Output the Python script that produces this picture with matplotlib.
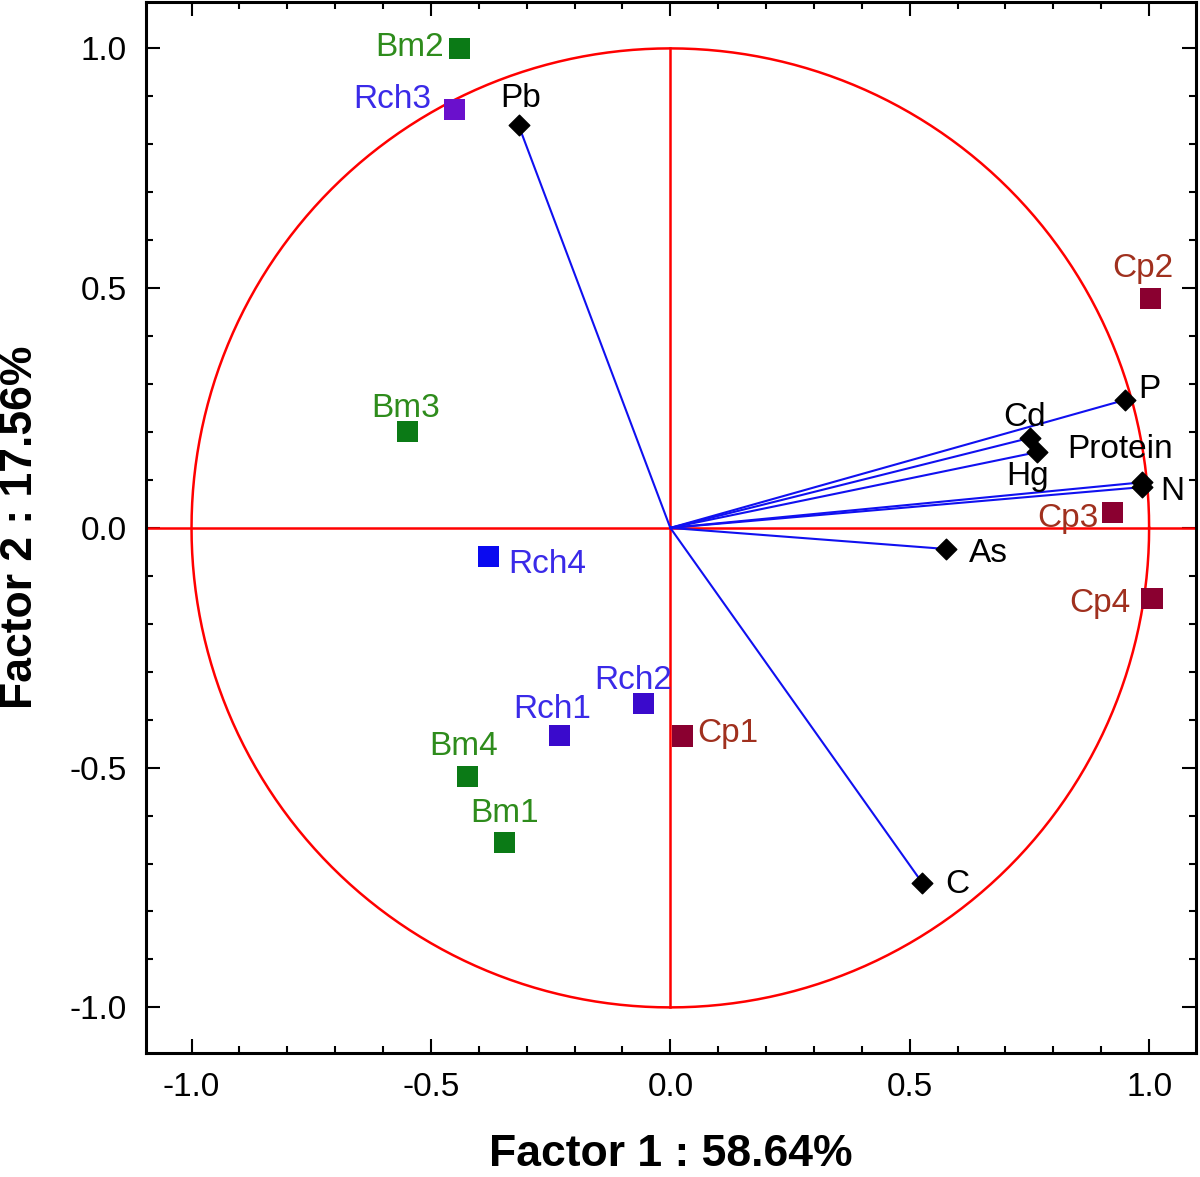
import matplotlib
matplotlib.use("Agg")
import matplotlib.pyplot as plt
import numpy as np
from matplotlib.ticker import MultipleLocator

plt.rcParams['font.family'] = ['Liberation Sans', 'DejaVu Sans']

# Variables (loadings)
var_names = ["Pb", "P", "Cd", "Hg", "Protein", "N", "As", "C"]
var_x = [-0.317, 0.950, 0.752, 0.766, 0.985, 0.985, 0.576, 0.526]
var_y = [0.840, 0.267, 0.188, 0.158, 0.095, 0.085, -0.044, -0.740]
var_label_off = [(2, 27), (24, 10), (-6, 20), (-10, -24), (-22, 33), (30, -4), (42, -5), (35, -2)]

# Cases (projected samples)
case_names = ["Bm2", "Rch3", "Cp2", "Bm3", "Cp3", "Rch4", "Cp4",
              "Rch2", "Rch1", "Cp1", "Bm4", "Bm1"]
case_x = [-0.440, -0.451, 1.002, -0.549, 0.923, -0.380, 1.006,
          -0.056, -0.232, 0.025, -0.424, -0.347]
case_y = [0.999, 0.872, 0.478, 0.202, 0.033, -0.060, -0.148,
          -0.367, -0.432, -0.434, -0.519, -0.657]
case_marker_colors = ["#0B7A16", "#6A10CC", "#8A0030", "#0B7A16", "#8A0030", "#0A0AF0",
                      "#8A0030", "#3A0ACC", "#3A0ACC", "#8A0030", "#0B7A16", "#0B7A16"]
case_text_colors = ["#2E8C1C", "#3A2AE8", "#A0301E", "#2E8C1C", "#A0301E", "#3A2AE8",
                    "#A0301E", "#3A2AE8", "#3A2AE8", "#A0301E", "#2E8C1C", "#2E8C1C"]
case_label_off = [(-50, 1), (-62, 10), (-7, 30), (-2, 23), (-44, -6), (59, -8), (-52, -5),
                  (-10, 23), (-7, 26), (46, 2), (-4, 30), (0, 29)]

fig = plt.figure(figsize=(12, 11.77), dpi=100)
ax = fig.add_axes([0.1217, 0.1054, 0.875, 0.893])

ax.set_xlim(-1.095, 1.098)
ax.set_ylim(-1.095, 1.097)

# unit circle and axes lines
t = np.linspace(0, 2 * np.pi, 721)
ax.plot(np.cos(t), np.sin(t), color="#FF0000", lw=1.8, zorder=2)
ax.axhline(0, color="#FF0000", lw=1.8, zorder=2)
ax.plot([0, 0], [-1, 1], color="#FF0000", lw=1.8, zorder=2)

# loading vectors
for x, y in zip(var_x, var_y):
    ax.plot([0, x], [0, y], color="#1010F0", lw=1.5, zorder=3)
ax.scatter(var_x, var_y, marker="D", s=110, color="black", zorder=5)
for name, x, y, off in zip(var_names, var_x, var_y, var_label_off):
    ax.annotate(name, (x, y), xytext=off, textcoords="offset pixels",
                ha="center", va="center", fontsize=24, color="black", zorder=6)

# cases
ax.scatter(case_x, case_y, marker="s", s=230, c=case_marker_colors, zorder=5,
           linewidths=0)
for name, x, y, c, off in zip(case_names, case_x, case_y, case_text_colors, case_label_off):
    ax.annotate(name, (x, y), xytext=off, textcoords="offset pixels",
                ha="center", va="center", fontsize=24, color=c, zorder=6)

ax.xaxis.set_major_locator(MultipleLocator(0.5))
ax.xaxis.set_minor_locator(MultipleLocator(0.1))
ax.yaxis.set_major_locator(MultipleLocator(0.5))
ax.yaxis.set_minor_locator(MultipleLocator(0.1))
ax.xaxis.set_major_formatter(matplotlib.ticker.FormatStrFormatter('%.1f'))
ax.yaxis.set_major_formatter(matplotlib.ticker.FormatStrFormatter('%.1f'))
ax.tick_params(which="both", direction="in", top=True, right=True, width=1.5)
ax.tick_params(which="major", length=10, labelsize=24, pad=14)
ax.tick_params(which="minor", length=5)
for s in ax.spines.values():
    s.set_linewidth(2.2)

ax.set_xlabel("Factor 1 : 58.64%", fontsize=32, fontweight="bold", labelpad=22)
ax.set_ylabel("Factor 2 : 17.56%", fontsize=32, fontweight="bold", labelpad=20)

fig.savefig("out.png", dpi=100)
